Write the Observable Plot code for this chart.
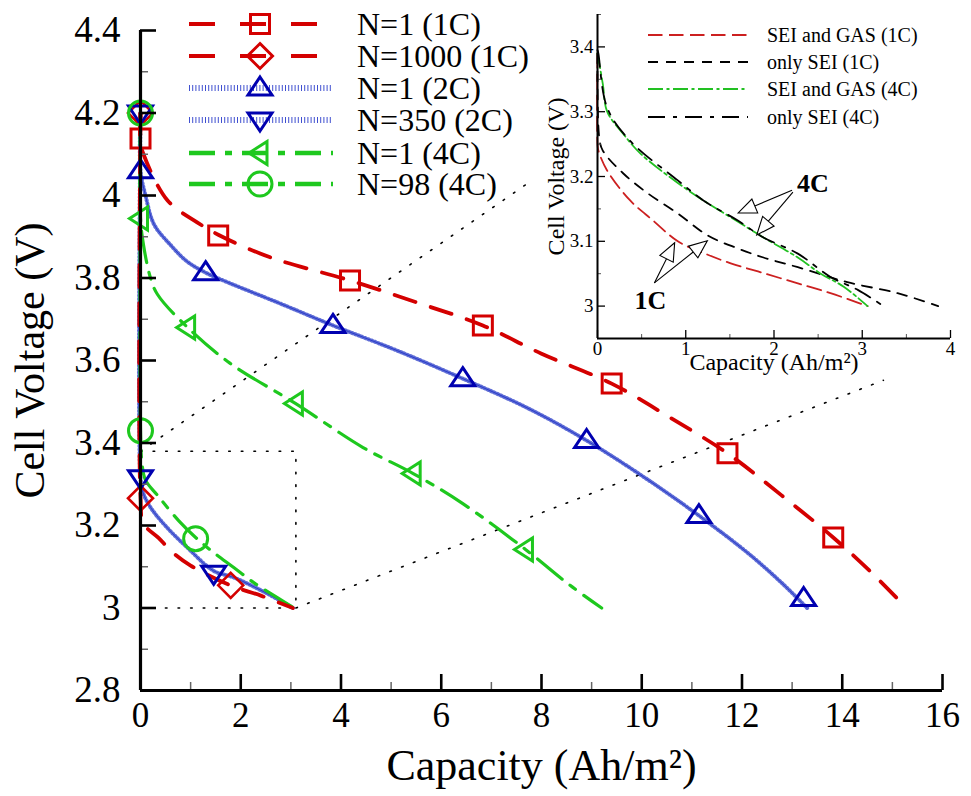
<!DOCTYPE html>
<html><head><meta charset="utf-8">
<script src="https://cdn.jsdelivr.net/npm/d3@7"></script>
<script src="https://cdn.jsdelivr.net/npm/@observablehq/plot@0.6"></script>
<style>
body{margin:0;background:#fff;}
#wrap{position:relative;width:971px;height:796px;overflow:hidden;font-family:'Liberation Serif','Times New Roman',serif;}
#wrap > svg{position:absolute;}
</style></head><body><div id="wrap"></div>
<script>
// ---------------- main chart data: [capacity (Ah/m2), voltage (V)] ----------------
const n1_1C = [[0,4.2],[0,4.13],[0.06,4.10],[0.54,3.988],[1.13,3.935],[1.55,3.905],[2.59,3.85],[4.18,3.794],[5.58,3.738],[6.83,3.685],[7.99,3.617],[9.4,3.544],[10.56,3.462],[11.71,3.375],[12.79,3.273],[13.82,3.171],[14.6,3.084],[15.28,3.0]];
const n1000_1C = [[0,4.2],[0,3.27],[0.06,3.205],[0.36,3.17],[0.64,3.135],[1.0,3.103],[1.79,3.055],[2.4,3.03],[3.04,3.0]];
const n1_2C = [[0,4.2],[0,4.06],[0.1,4.0],[0.27,3.93],[0.6,3.88],[0.93,3.84],[1.3,3.813],[1.79,3.787],[2.79,3.738],[3.84,3.685],[5.12,3.624],[6.43,3.556],[7.75,3.483],[8.9,3.406],[10.06,3.316],[11.14,3.224],[12.13,3.132],[12.8,3.06],[13.3,3.0]];
const n350_2C = [[0,4.2],[0,3.316],[0.05,3.28],[0.2,3.244],[0.53,3.195],[0.93,3.147],[1.46,3.09],[1.86,3.074],[2.53,3.035],[3.04,3.0]];
const n1_4C = [[0,4.2],[0,3.944],[0.06,3.88],[0.2,3.80],[0.34,3.76],[0.94,3.68],[1.79,3.593],[3.09,3.496],[4.44,3.389],[5.44,3.326],[6.43,3.253],[7.68,3.142],[8.57,3.055],[9.2,3.0]];
const n98_4C = [[0,4.2],[0,3.43],[0.03,3.35],[0.1,3.31],[0.34,3.273],[0.76,3.212],[1.1,3.171],[1.4,3.14],[1.86,3.098],[2.3,3.058],[2.73,3.025],[3.06,3.0]];

// marker positions
const mk_n1_1C = [[0,4.138],[1.55,3.903],[4.18,3.794],[6.83,3.685],[9.4,3.544],[11.71,3.375],[13.82,3.171]];
const mk_n1000_1C = [[0,4.2],[0,3.266],[1.8,3.055]];
const mk_n1_2C = [[0,4.06],[1.3,3.813],[3.84,3.685],[6.43,3.556],[8.9,3.406],[11.14,3.224],[13.23,3.023]];
const mk_n350_2C = [[0,4.2],[0,3.316],[1.46,3.084]];
const mk_n1_4C = [[0,3.944],[0.94,3.68],[3.09,3.496],[5.44,3.326],[7.68,3.142]];
const mk_n98_4C = [[0,4.2],[0,3.43],[1.1,3.168]];

// zoom box and connectors (data coords of main chart)
const zoomBox = [[0,3.38],[3.1,3.38],[3.1,3.0],[0,3.0]];
const connector1 = [[0,3.38],[7.73,4.03]];
const connector2 = [[3.1,3.0],[14.82,3.552]];

const xMajor = [0,2,4,6,8,10,12,14,16];
const xMinor = [1,3,5,7,9,11,13,15];
const yMajor = [2.8,3.0,3.2,3.4,3.6,3.8,4.0,4.2,4.4];
const yMinor = [2.9,3.1,3.3,3.5,3.7,3.9,4.1,4.3];

const legendLabels = ["N=1 (1C)","N=1000 (1C)","N=1 (2C)","N=350 (2C)","N=1 (4C)","N=98 (4C)"];

// ---------------- inset data ----------------
const sg1C = [[0,3.39],[0,3.25],[0.01,3.24],[0.11,3.209],[0.37,3.163],[0.63,3.132],[0.91,3.10],[1.2,3.082],[1.51,3.066],[1.88,3.051],[2.27,3.035],[2.64,3.02],[3.06,3.0]];
const sei1C = [[0,3.39],[0.02,3.26],[0.06,3.24],[0.29,3.205],[0.57,3.174],[0.91,3.143],[1.25,3.109],[1.59,3.089],[1.88,3.075],[2.27,3.06],[2.83,3.037],[3.4,3.02],[3.86,3.0]];
const sg4C = [[0,3.39],[0.06,3.343],[0.11,3.30],[0.29,3.266],[0.49,3.235],[0.91,3.19],[1.2,3.163],[1.51,3.137],[1.88,3.106],[2.27,3.075],[2.53,3.05],[2.79,3.03],[3.06,3.0]];
const sei4C = [[0,3.395],[0.01,3.39],[0.11,3.306],[0.37,3.255],[0.91,3.194],[1.2,3.163],[1.59,3.132],[1.88,3.106],[2.27,3.081],[2.64,3.045],[2.95,3.025],[3.24,3.0]];
const insetXMajor = [0,1,2,3,4];
const insetXMinor = [0.5,1.5,2.5,3.5];
const insetYMajor = [3.0,3.1,3.2,3.3,3.4];
const insetYMinor = [3.05,3.15,3.25,3.35,3.45];
const insetLabels = ["SEI and GAS (1C)","only SEI (1C)","SEI and GAS (4C)","only SEI (4C)"];
const annotText = [{x:2.44,y:3.189,t:"4C"},{x:0.60,y:3.008,t:"1C"}];
const arrows = [[2.21,3.178,1.60,3.143],[2.22,3.175,1.81,3.109],[0.65,3.035,0.88,3.097],[0.65,3.035,1.25,3.10]];

// ---------------- styles ----------------
const RED = "#d40000", BLUE = "#0000b0", BLUEL = "#2a3cc8", GREEN = "#1ec81e";
const FONT = "'Liberation Serif', 'Times New Roman', serif";

function fixedSymbol(f){ return {draw(ctx){ f(ctx); }}; }
const symSquare = fixedSymbol(c=>{c.moveTo(-9.5,-9.5);c.lineTo(9.5,-9.5);c.lineTo(9.5,9.5);c.lineTo(-9.5,9.5);c.closePath();});
const symDiamond = fixedSymbol(c=>{c.moveTo(0,-12.5);c.lineTo(12.5,0);c.lineTo(0,12.5);c.lineTo(-12.5,0);c.closePath();});
const symTriUp = fixedSymbol(c=>{c.moveTo(0,-11);c.lineTo(12,7);c.lineTo(-12,7);c.closePath();});
const symTriDown = fixedSymbol(c=>{c.moveTo(0,11);c.lineTo(12,-7);c.lineTo(-12,-7);c.closePath();});
const symTriLeft = fixedSymbol(c=>{c.moveTo(-11,0);c.lineTo(7,-11.5);c.lineTo(7,11.5);c.closePath();});
const symCircle = fixedSymbol(c=>{c.moveTo(12,0);c.arc(0,0,12,0,2*Math.PI);c.closePath();});

const fmt = d => String(+d.toFixed(1));
const px = d => d[0], py = d => d[1];
const CURVE = "catmull-rom";

const W = 971, H = 796, ML = 140, MR = 29, MT = 30, MB = 106;
const innerW = W - ML - MR, innerH = H - MT - MB;

const main = Plot.plot({
  width: W, height: H, marginLeft: ML, marginRight: MR, marginTop: MT, marginBottom: MB,
  x: {domain: [0,16]}, y: {domain: [2.8,4.4]},
  style: {fontFamily: FONT, background: "transparent", color: "black", overflow: "visible"},
  marks: [
    Plot.line(zoomBox, {x: px, y: py, stroke: "#000", strokeWidth: 1.6, strokeDasharray: "1.6,11"}),
    Plot.line(connector1, {x: px, y: py, stroke: "#000", strokeWidth: 1.6, strokeDasharray: "1.6,11"}),
    Plot.line(connector2, {x: px, y: py, stroke: "#000", strokeWidth: 1.6, strokeDasharray: "1.6,11"}),

    Plot.line(n1_2C, {x: px, y: py, stroke: BLUEL, strokeWidth: 1, curve: CURVE}),
    Plot.line(n1_2C, {x: px, y: py, stroke: BLUEL, strokeWidth: 4, strokeDasharray: "0.9,2.6", strokeOpacity: 0.75, curve: CURVE}),
    Plot.line(n350_2C, {x: px, y: py, stroke: BLUEL, strokeWidth: 1, curve: CURVE}),
    Plot.line(n350_2C, {x: px, y: py, stroke: BLUEL, strokeWidth: 4, strokeDasharray: "0.9,2.6", strokeOpacity: 0.75, curve: CURVE}),
    Plot.line(n1_4C, {x: px, y: py, stroke: GREEN, strokeWidth: 3.2, strokeDasharray: "32,10,7,10", curve: CURVE}),
    Plot.line(n98_4C, {x: px, y: py, stroke: GREEN, strokeWidth: 3.2, strokeDasharray: "32,10,7,10", curve: CURVE}),
    Plot.line(n1_1C, {x: px, y: py, stroke: RED, strokeWidth: 3.8, strokeDasharray: "22,16", curve: CURVE}),
    Plot.line(n1000_1C, {x: px, y: py, stroke: RED, strokeWidth: 3.8, strokeDasharray: "22,16", curve: CURVE}),

    Plot.dot(mk_n1_1C, {x: px, y: py, symbol: symSquare, stroke: RED, strokeWidth: 3, fill: "none"}),
    Plot.dot(mk_n1000_1C, {x: px, y: py, symbol: symDiamond, stroke: RED, strokeWidth: 2.6, fill: "none"}),
    Plot.dot(mk_n1_2C, {x: px, y: py, symbol: symTriUp, stroke: BLUE, strokeWidth: 3, fill: "none"}),
    Plot.dot(mk_n350_2C, {x: px, y: py, symbol: symTriDown, stroke: BLUE, strokeWidth: 3, fill: "none"}),
    Plot.dot(mk_n1_4C, {x: px, y: py, symbol: symTriLeft, stroke: GREEN, strokeWidth: 3, fill: "none"}),
    Plot.dot(mk_n98_4C, {x: px, y: py, symbol: symCircle, stroke: GREEN, strokeWidth: 3, fill: "none"}),

    // axes
    Plot.tickY(yMinor, {y: d => d, insetRight: innerW - 8, stroke: "#666", strokeWidth: 1.5}),
    Plot.tickY(yMajor, {y: d => d, insetRight: innerW - 16, stroke: "#000", strokeWidth: 2.6}),
    Plot.tickX(xMinor, {x: d => d, insetTop: innerH - 8, stroke: "#666", strokeWidth: 1.5}),
    Plot.tickX(xMajor, {x: d => d, insetTop: innerH - 16, stroke: "#000", strokeWidth: 2.6}),
    Plot.ruleX([0], {stroke: "#000", strokeWidth: 3.2}),
    Plot.ruleY([2.8], {stroke: "#000", strokeWidth: 3.2}),
    Plot.axisY(yMajor, {tickSize: 0, tickPadding: 20, tickFormat: fmt, fontSize: 37, label: null}),
    Plot.axisX(xMajor, {tickSize: 0, tickPadding: 12, tickFormat: fmt, fontSize: 35, label: null}),
    Plot.text(["Cell Voltage (V)"], {frameAnchor: "left", textAnchor: "middle", rotate: -90, dx: -110, fontSize: 42}),
    Plot.text(["Capacity (Ah/m²)"], {frameAnchor: "bottom", textAnchor: "middle", dy: 89, fontSize: 44})
  ]
});
main.style.left = "0px"; main.style.top = "0px";
document.getElementById("wrap").appendChild(main);

// ---------------- inset ----------------
const IL = 480, IT = 0, IW = 491, IH = 400, IML = 117, IMR = 21, IMT = 14, IMB = 62;
const iInnerW = IW - IML - IMR, iInnerH = IH - IMT - IMB;
function arrowMark(index, scales) {
  const g = d3.create("svg:g");
  for (const a of arrows) {
    const x1 = scales.x(a[0]), y1 = scales.y(a[1]), x2 = scales.x(a[2]), y2 = scales.y(a[3]);
    const ang = Math.atan2(y2 - y1, x2 - x1), L = 18, hw = 7.5;
    const bx = x2 - L * Math.cos(ang), by = y2 - L * Math.sin(ang);
    const sx = hw * Math.sin(ang), sy = hw * Math.cos(ang);
    g.append("line").attr("x1", x1).attr("y1", y1).attr("x2", bx).attr("y2", by)
      .attr("stroke", "#000").attr("stroke-width", 1.1);
    g.append("path").attr("d", `M${x2},${y2}L${bx + sx},${by - sy}L${bx - sx},${by + sy}Z`)
      .attr("fill", "#fff").attr("stroke", "#000").attr("stroke-width", 1.1);
  }
  return g.node();
}
const inset = Plot.plot({
  width: IW, height: IH, marginLeft: IML, marginRight: IMR, marginTop: IMT, marginBottom: IMB,
  x: {domain: [0,4]}, y: {domain: [2.95,3.45]},
  style: {fontFamily: FONT, background: "transparent", color: "black", overflow: "visible"},
  marks: [
    Plot.line(sg1C, {x: px, y: py, stroke: "#cc2020", strokeWidth: 1.8, strokeDasharray: "14.5,6.5", curve: CURVE}),
    Plot.line(sei1C, {x: px, y: py, stroke: "#000", strokeWidth: 1.8, strokeDasharray: "10,8", curve: CURVE}),
    Plot.line(sg4C, {x: px, y: py, stroke: "#22c022", strokeWidth: 1.8, strokeDasharray: "15,3.5,3,3.5", curve: CURVE}),
    Plot.line(sei4C, {x: px, y: py, stroke: "#000", strokeWidth: 1.8, strokeDasharray: "17,8,4,8", curve: CURVE}),
    arrowMark,
    Plot.text(annotText, {x: "x", y: "y", text: "t", fontSize: 26, fontWeight: "bold"}),
    Plot.tickY(insetYMinor, {y: d => d, insetRight: iInnerW - 4, stroke: "#555", strokeWidth: 1}),
    Plot.tickY(insetYMajor, {y: d => d, insetRight: iInnerW - 8, stroke: "#000", strokeWidth: 1.3}),
    Plot.tickX(insetXMinor, {x: d => d, insetTop: iInnerH - 4, stroke: "#555", strokeWidth: 1}),
    Plot.tickX(insetXMajor, {x: d => d, insetTop: iInnerH - 8, stroke: "#000", strokeWidth: 1.3}),
    Plot.ruleX([0], {stroke: "#000", strokeWidth: 2}),
    Plot.ruleY([2.95], {stroke: "#000", strokeWidth: 2}),
    Plot.axisY(insetYMajor, {tickSize: 0, tickPadding: 4, tickFormat: fmt, fontSize: 19, label: null}),
    Plot.axisX(insetXMajor, {tickSize: 0, tickPadding: 3, tickFormat: fmt, fontSize: 19, label: null}),
    Plot.text(["Cell Voltage (V)"], {frameAnchor: "left", textAnchor: "middle", rotate: -90, dx: -41, fontSize: 24}),
    Plot.text(["Capacity (Ah/m²)"], {frameAnchor: "bottom", textAnchor: "middle", dy: 31, fontSize: 24})
  ]
});
inset.style.left = IL + "px"; inset.style.top = IT + "px";
document.getElementById("wrap").appendChild(inset);

// ---------------- main legend ----------------
(function(){
  const svg = d3.select("#wrap").append("svg").attr("width", 380).attr("height", 205)
    .style("left", "180px").style("top", "0px").style("font-family", FONT);
  const rows = [
    {y: 24, stroke: RED, w: 4, dash: "26,25", x2: 137, sym: symSquare, mc: RED},
    {y: 56, stroke: RED, w: 4, dash: "26,25", x2: 137, sym: symDiamond, mc: RED},
    {y: 88, stroke: "#4050d0", w: 6, dash: "1,2.2", x2: 152, sym: symTriUp, mc: BLUE},
    {y: 120, stroke: "#4050d0", w: 6, dash: "1,2.2", x2: 152, sym: symTriDown, mc: BLUE},
    {y: 153, stroke: GREEN, w: 4.5, dash: "26,10,7,10", x2: 153, sym: symTriLeft, mc: GREEN},
    {y: 184, stroke: GREEN, w: 4.5, dash: "26,10,7,10", x2: 153, sym: symCircle, mc: GREEN}
  ];
  rows.forEach((r, i) => {
    svg.append("line").attr("x1", 9).attr("x2", r.x2).attr("y1", r.y).attr("y2", r.y)
      .attr("stroke", r.stroke).attr("stroke-width", r.w).attr("stroke-dasharray", r.dash);
    const p = d3.path(); r.sym.draw(p);
    svg.append("path").attr("d", p.toString()).attr("transform", `translate(80,${r.y})`)
      .attr("fill", "none").attr("stroke", r.mc).attr("stroke-width", 3);
    svg.append("text").attr("x", 177).attr("y", r.y).attr("dy", "0.35em")
      .attr("font-size", 32).text(legendLabels[i]);
  });
})();

// ---------------- inset legend ----------------
(function(){
  const svg = d3.select("#wrap").append("svg").attr("width", 330).attr("height", 115)
    .style("left", "640px").style("top", "20px").style("font-family", FONT);
  const rows = [
    {y: 15, stroke: "#cc2020", dash: "14.5,6.5"},
    {y: 42, stroke: "#000", dash: "10,8"},
    {y: 69, stroke: "#22c022", dash: "15,3.5,3,3.5"},
    {y: 97, stroke: "#000", dash: "17,8,4,8"}
  ];
  rows.forEach((r, i) => {
    svg.append("line").attr("x1", 8).attr("x2", 108).attr("y1", r.y).attr("y2", r.y)
      .attr("stroke", r.stroke).attr("stroke-width", 2).attr("stroke-dasharray", r.dash);
    svg.append("text").attr("x", 127).attr("y", r.y).attr("dy", "0.35em")
      .attr("font-size", 20).text(insetLabels[i]);
  });
})();
</script>
</body></html>
